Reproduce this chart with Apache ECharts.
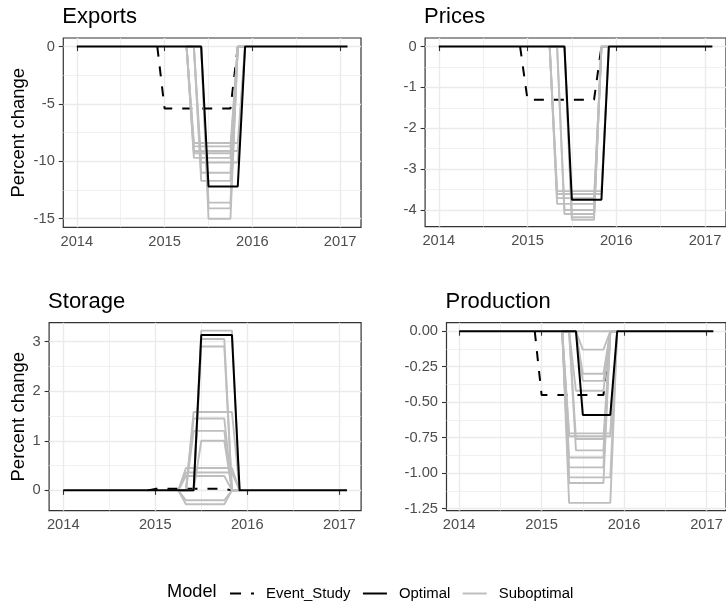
<!DOCTYPE html>
<html>
<head>
<meta charset="utf-8">
<script src="https://cdn.jsdelivr.net/npm/echarts@6/dist/echarts.min.js"></script>
<style>
  html, body { margin: 0; padding: 0; background: #fff; }
  #chart { width: 726px; height: 602px; }
</style>
</head>
<body>
<div id="chart"></div>
<script>
// monthly dates, Jan 2014 .. Feb 2017, as decimal years
var months = [];
for (var i = 0; i < 38; i++) months.push(2014 + i / 12);

var yearTicks = [2014, 2015, 2016, 2017];
var yearMinor = [2014.5, 2015.5, 2016.5];

// Optimal, every month
var exportsOptimal    = [0,0,0,0,0,0,0,0,0,0,0,0,0,0,0,0,0,0,-12.2,-12.2,-12.2,-12.2,-12.2,0,0,0,0,0,0,0,0,0,0,0,0,0,0,0];
var pricesOptimal     = [0,0,0,0,0,0,0,0,0,0,0,0,0,0,0,0,0,0,-3.75,-3.75,-3.75,-3.75,-3.75,0,0,0,0,0,0,0,0,0,0,0,0,0,0,0];
var storageOptimal    = [0,0,0,0,0,0,0,0,0,0,0,0,0,0,0,0,0,0,3.13,3.13,3.13,3.13,3.13,0,0,0,0,0,0,0,0,0,0,0,0,0,0,0];
var productionOptimal = [0,0,0,0,0,0,0,0,0,0,0,0,0,0,0,0,0,0,-0.59,-0.59,-0.59,-0.59,-0.59,0,0,0,0,0,0,0,0,0,0,0,0,0,0,0];

// Event_Study, Dec 2014 .. Nov 2015
var eventStart = 11;
var exportsEvent    = [0,-5.4,-5.4,-5.4,-5.4,-5.4,-5.4,-5.4,-5.4,-5.4,-5.4,0];
var pricesEvent     = [0,-1.3,-1.3,-1.3,-1.3,-1.3,-1.3,-1.3,-1.3,-1.3,-1.3,0];
var storageEvent    = [0,0.03,0.03,0.03,0.03,0.03,0.03,0.03,0.03,0.03,0.03,0];
var productionEvent = [0,-0.45,-0.45,-0.45,-0.45,-0.45,-0.45,-0.45,-0.45,-0.45,-0.45,0];

// Suboptimal runs, Apr 2015 .. Dec 2015
var subStart = 15;
var exportsSub = [
  [0,-8.4,-8.4,-8.4,-8.4,-8.4,-8.4,-8.4,0],
  [0,-8.7,-8.7,-8.7,-8.7,-8.7,-8.7,0,0],
  [0,-9.1,-9.1,-9.1,-9.1,-9.1,-9.1,-9.1,0],
  [0,-9.3,-9.3,-9.3,-9.3,-9.3,-9.3,0,0],
  [0,-9.7,-9.7,-9.7,-9.7,-9.7,-9.7,0,0],
  [0,0,-10.1,-10.1,-10.1,-10.1,-10.1,-10.1,0],
  [0,0,-11.0,-11.0,-11.0,-11.0,-11.0,0,0],
  [0,0,-11.7,-11.7,-11.7,-11.7,-11.7,0,0],
  [0,0,0,-13.6,-13.6,-13.6,-13.6,0,0],
  [0,0,0,-14.1,-14.1,-14.1,-14.1,0,0],
  [0,0,0,-15.0,-15.0,-15.0,-15.0,0,0]
];
var pricesSub = [
  [0,-3.54,-3.54,-3.54,-3.54,-3.54,-3.54,-3.54,0],
  [0,-3.61,-3.61,-3.61,-3.61,-3.61,-3.61,-3.61,0],
  [0,-3.71,-3.71,-3.71,-3.71,-3.71,-3.71,0,0],
  [0,-3.85,-3.85,-3.85,-3.85,-3.85,-3.85,0,0],
  [0,0,-4.0,-4.0,-4.0,-4.0,-4.0,0,0],
  [0,0,-4.1,-4.1,-4.1,-4.1,-4.1,0,0],
  [0,0,0,-4.18,-4.18,-4.18,-4.18,0,0],
  [0,0,0,-4.24,-4.24,-4.24,-4.24,0,0]
];
var storageSub = [
  [0,0,0,3.22,3.22,3.22,3.22,3.22,0],
  [0,0,0,3.05,3.05,3.05,3.05,0,0],
  [0,0,0,2.9,2.9,2.9,2.9,0,0],
  [0,0,1.58,1.58,1.58,1.58,1.58,1.58,0],
  [0,0,1.45,1.45,1.45,1.45,1.45,0,0],
  [0,0,1.2,1.2,1.2,1.2,1.2,0,0],
  [0,0,0,1.0,1.0,1.0,1.0,0,0],
  [0,0.45,0.45,0.45,0.45,0.45,0.45,0.45,0],
  [0,0.36,0.36,0.36,0.36,0.36,0.36,0.36,0],
  [0,0.29,0.29,0.29,0.29,0.29,0.29,0,0],
  [0,-0.2,-0.2,-0.2,-0.2,-0.2,-0.2,0,0],
  [0,-0.28,-0.28,-0.28,-0.28,-0.28,-0.28,0,0]
];
var productionSub = [
  [0,0,0,0,0,0,0,0,0],
  [0,0,0,-0.13,-0.13,-0.13,-0.13,0,0],
  [0,0,0,-0.30,-0.30,-0.30,-0.30,0,0],
  [0,0,0,-0.35,-0.35,-0.35,-0.35,0,0],
  [0,0,-0.42,-0.42,-0.42,-0.42,-0.42,0,0],
  [0,-0.72,-0.72,-0.72,-0.72,-0.72,-0.72,-0.72,0],
  [0,-0.74,-0.74,-0.74,-0.74,-0.74,-0.74,-0.74,0],
  [0,0,-0.76,-0.76,-0.76,-0.76,-0.76,0,0],
  [0,0,-0.84,-0.84,-0.84,-0.84,-0.84,0,0],
  [0,-0.89,-0.89,-0.89,-0.89,-0.89,-0.89,0,0],
  [0,-0.96,-0.96,-0.96,-0.96,-0.96,-0.96,0,0],
  [0,-1.03,-1.03,-1.03,-1.03,-1.03,-1.03,-1.03,0],
  [0,-1.07,-1.07,-1.07,-1.07,-1.07,-1.07,0,0],
  [0,-1.21,-1.21,-1.21,-1.21,-1.21,-1.21,-1.21,0]
];

// y ticks per panel
var exportsTicks = [-15, -10, -5, 0], exportsMinor = [-12.5, -7.5, -2.5];
var pricesTicks = [-4, -3, -2, -1, 0], pricesMinor = [-3.5, -2.5, -1.5, -0.5];
var storageTicks = [0, 1, 2, 3], storageMinor = [0.5, 1.5, 2.5];
var productionTicks = [-1.25, -1, -0.75, -0.5, -0.25, 0];
var productionMinor = [-1.125, -0.875, -0.625, -0.375, -0.125];

var font = '"Liberation Sans", Arial, Helvetica, sans-serif';

var panels = [
  { title: 'Exports', box: [63.3, 38, 297.7, 189.3], y: [-15.75, 0.75], ticks: exportsTicks, minor: exportsMinor, dec: 0,
    opt: exportsOptimal, ev: exportsEvent, sub: exportsSub },
  { title: 'Prices', box: [425.1, 38, 305.2, 188.7], y: [-4.41, 0.21], ticks: pricesTicks, minor: pricesMinor, dec: 0,
    opt: pricesOptimal, ev: pricesEvent, sub: pricesSub },
  { title: 'Storage', box: [49.1, 322.7, 312, 188], y: [-0.41, 3.38], ticks: storageTicks, minor: storageMinor, dec: 0,
    opt: storageOptimal, ev: storageEvent, sub: storageSub },
  { title: 'Production', box: [446.5, 322.7, 284.4, 188], y: [-1.265, 0.06], ticks: productionTicks, minor: productionMinor, dec: 2,
    opt: productionOptimal, ev: productionEvent, sub: productionSub }
];

var grid = [], xAxis = [], yAxis = [], series = [], title = [], graphic = [];
var black = '#000000', grey = '#BEBEBE';

panels.forEach(function (p, k) {
  grid.push({ left: p.box[0], top: p.box[1], width: p.box[2], height: p.box[3],
    show: true, borderColor: '#333333', borderWidth: 1.2, backgroundColor: '#fff' });

  title.push({ text: p.title, left: p.box[0] - 1, top: p.box[1] - 32, padding: 0,
    textStyle: { fontFamily: font, fontSize: 22, fontWeight: 'normal', color: '#000' } });

  xAxis.push({
    type: 'value', gridIndex: k, min: 2013.846, max: 2017.237,
    axisLine: { show: false },
    axisTick: { show: true, length: 4.5, customValues: yearTicks, lineStyle: { color: '#333333', width: 1.1 } },
    axisLabel: { customValues: yearTicks, margin: 7, color: '#4D4D4D', fontFamily: font, fontSize: 14.7,
      formatter: function (v) { return String(Math.round(v)); } },
    splitLine: { show: true, lineStyle: { color: '#EBEBEB', width: 1.4 } }
  });
  xAxis.push({
    type: 'value', gridIndex: k, min: 2013.846, max: 2017.237, position: 'top',
    axisLine: { show: false }, axisLabel: { show: false },
    axisTick: { show: false, customValues: yearMinor },
    splitLine: { show: true, lineStyle: { color: '#EBEBEB', width: 0.7 } }
  });
  yAxis.push({
    type: 'value', gridIndex: k, min: p.y[0], max: p.y[1],
    axisLine: { show: false },
    axisTick: { show: true, length: 4.5, customValues: p.ticks, lineStyle: { color: '#333333', width: 1.1 } },
    axisLabel: { customValues: p.ticks, margin: 8.5, color: '#4D4D4D', fontFamily: font, fontSize: 14.7,
      formatter: (function (d) { return function (v) { return v.toFixed(d); }; })(p.dec) },
    splitLine: { show: true, lineStyle: { color: '#EBEBEB', width: 1.4 } }
  });
  yAxis.push({
    type: 'value', gridIndex: k, min: p.y[0], max: p.y[1], position: 'right',
    axisLine: { show: false }, axisLabel: { show: false },
    axisTick: { show: false, customValues: p.minor },
    splitLine: { show: true, lineStyle: { color: '#EBEBEB', width: 0.7 } }
  });

  var base = { type: 'line', xAxisIndex: 2 * k, yAxisIndex: 2 * k, symbol: 'none', showSymbol: false,
    silent: true, animation: false };

  series.push(Object.assign({}, base, {
    name: 'Event_Study', itemStyle: { color: black },
    lineStyle: { color: black, width: 2, type: [10, 10] },
    data: p.ev.map(function (v, i) { return [months[eventStart + i], v]; })
  }));
  p.sub.forEach(function (run) {
    series.push(Object.assign({}, base, {
      name: 'Suboptimal', itemStyle: { color: grey },
      lineStyle: { color: grey, width: 1.9 },
      data: run.map(function (v, i) { return [months[subStart + i], v]; })
    }));
  });
  series.push(Object.assign({}, base, {
    name: 'Optimal', itemStyle: { color: black },
    lineStyle: { color: black, width: 2 },
    data: p.opt.map(function (v, i) { return [months[i], v]; })
  }));
});

// y axis titles (left column only)
[[18.5, 132.7], [18.5, 416.7]].forEach(function (c) {
  graphic.push({ type: 'text', x: c[0], y: c[1], rotation: Math.PI / 2, silent: true,
    style: { text: 'Percent change', fontFamily: font, fontSize: 18.5, fill: '#000',
      align: 'center', verticalAlign: 'middle' } });
});
graphic.push({ type: 'text', x: 167, y: 592, silent: true,
  style: { text: 'Model', fontFamily: font, fontSize: 18.2, fill: '#000', align: 'left', verticalAlign: 'middle' } });

var dashKey = 'path://M0,0H11V2H0Z M21,0H24V2H21Z';
var solidKey = 'path://M0,0H24V2H0Z';

var chart = echarts.init(document.getElementById('chart'), null, { renderer: 'canvas' });
chart.setOption({
  animation: false,
  backgroundColor: '#fff',
  title: title,
  grid: grid,
  xAxis: xAxis,
  yAxis: yAxis,
  legend: {
    data: [
      { name: 'Event_Study', icon: dashKey, itemStyle: { color: black } },
      { name: 'Optimal', icon: solidKey, itemStyle: { color: black } },
      { name: 'Suboptimal', icon: solidKey, itemStyle: { color: grey } }
    ],
    left: 230, top: 586, itemWidth: 24, itemHeight: 2.4, itemGap: 12.5, padding: 0,
    selectedMode: false,
    textStyle: { fontFamily: font, fontSize: 14.9, color: '#000', padding: [0, 0, 0, 7] }
  },
  graphic: graphic,
  series: series
});
</script>
</body>
</html>
